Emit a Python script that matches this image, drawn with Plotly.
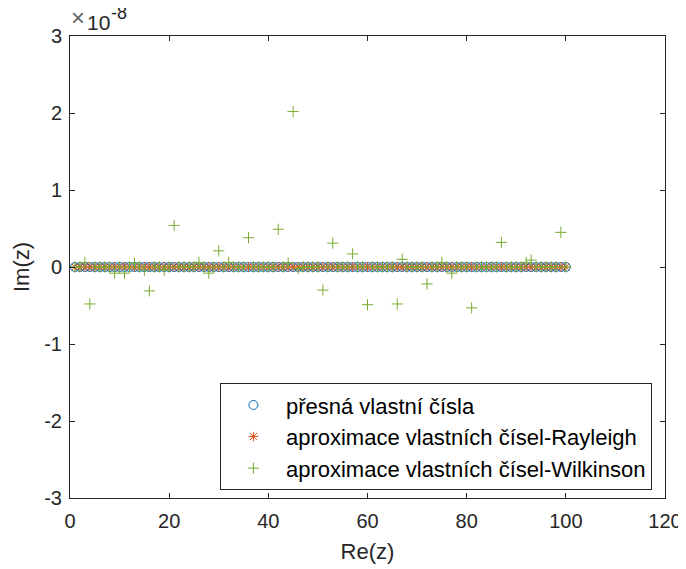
import plotly.graph_objects as go

# exact eigenvalues (real parts 1..100), imaginary parts zero
exact_re = list(range(1, 101))
exact_im = [0.0] * 100

# Rayleigh approximations: same real parts, imaginary parts zero
rayleigh_re = list(range(1, 101))
rayleigh_im = [0.0] * 100

# Wilkinson approximations: imaginary parts in units of 1e-8
wilk_re = list(range(1, 101))
wilk_dev = {
    3: 0.06, 4: -0.48, 9: -0.08, 11: -0.08, 13: 0.05, 15: -0.04, 16: -0.31,
    19: -0.04, 21: 0.54, 26: 0.06, 28: -0.08, 30: 0.21, 32: 0.06, 36: 0.38,
    42: 0.49, 44: 0.05, 45: 2.02, 46: -0.02, 51: -0.30, 53: 0.31, 57: 0.17,
    60: -0.49, 66: -0.48, 67: 0.10, 72: -0.22, 75: 0.06, 77: -0.08, 81: -0.53,
    87: 0.32, 92: 0.06, 93: 0.09, 99: 0.45,
}
wilk_im_e8 = [wilk_dev.get(k, 0.0) for k in wilk_re]
SCALE = 1e-8
wilk_im = [v * SCALE for v in wilk_im_e8]

y_ticks = [-3, -2, -1, 0, 1, 2, 3]
x_ticks = [0, 20, 40, 60, 80, 100, 120]

FONT = "Liberation Sans, Arial, sans-serif"
TXT = "#262626"

fig = go.Figure()
fig.add_trace(go.Scatter(
    x=exact_re, y=exact_im, mode="markers", name="přesná vlastní čísla",
    marker=dict(symbol="circle-open", size=9, color="#0072BD", line=dict(width=1, color="#0072BD")),
))
fig.add_trace(go.Scatter(
    x=rayleigh_re, y=rayleigh_im, mode="markers", name="aproximace vlastních čísel-Rayleigh",
    marker=dict(symbol="asterisk-open", size=8, color="#D95319", line=dict(width=1, color="#D95319")),
))
fig.add_trace(go.Scatter(
    x=wilk_re, y=wilk_im, mode="markers", name="aproximace vlastních čísel-Wilkinson",
    marker=dict(symbol="cross-thin-open", size=8, color="#77AC30", line=dict(width=1, color="#77AC30")),
))

axis_common = dict(
    showgrid=False, zeroline=False, showline=True, linecolor=TXT, linewidth=1,
    mirror="ticks", ticks="inside", ticklen=5, tickcolor=TXT, automargin=False,
    tickfont=dict(family=FONT, size=20, color=TXT),
)
fig.update_layout(
    width=678, height=561,
    margin=dict(l=62, r=21, t=28, b=71, autoexpand=False),
    paper_bgcolor="white", plot_bgcolor="white",
    font=dict(family=FONT, color=TXT),
    xaxis=dict(range=[0, 120], tickvals=x_ticks, ticktext=[str(t) for t in x_ticks],
               ticklabelstandoff=5,
               title=dict(text="Re(z)", font=dict(family=FONT, size=22, color=TXT), standoff=12),
               **axis_common),
    yaxis=dict(range=[-3 * SCALE, 3 * SCALE], tickvals=[t * SCALE for t in y_ticks],
               ticktext=[str(t) for t in y_ticks],
               ticklabelstandoff=3,
               title=dict(text="Im(z)", font=dict(family=FONT, size=22, color=TXT), standoff=8),
               **axis_common),
    legend=dict(
        x=0.978, y=0.017, xanchor="right", yanchor="bottom",
        bgcolor="white", bordercolor=TXT, borderwidth=1,
        font=dict(family=FONT, size=22, color="black"),
        itemwidth=55, tracegroupgap=0,
    ),
    showlegend=True,
)
# exponent label: "×" + "10" + superscript "-8"
fig.add_annotation(
    xref="paper", yref="paper", x=0.0, y=1.0, xanchor="left", yanchor="bottom",
    text="×", showarrow=False, font=dict(family=FONT, size=24, color="#666666"),
    xshift=-1, yshift=3,
)
fig.add_annotation(
    xref="paper", yref="paper", x=0.0, y=1.0, xanchor="left", yanchor="bottom",
    text="10", showarrow=False, font=dict(family=FONT, size=21, color=TXT),
    xshift=15, yshift=0,
)
fig.add_annotation(
    xref="paper", yref="paper", x=0.0, y=1.0, xanchor="left", yanchor="bottom",
    text="-8", showarrow=False, font=dict(family=FONT, size=18, color=TXT),
    xshift=39, yshift=11,
)
fig.write_html("out.html")
